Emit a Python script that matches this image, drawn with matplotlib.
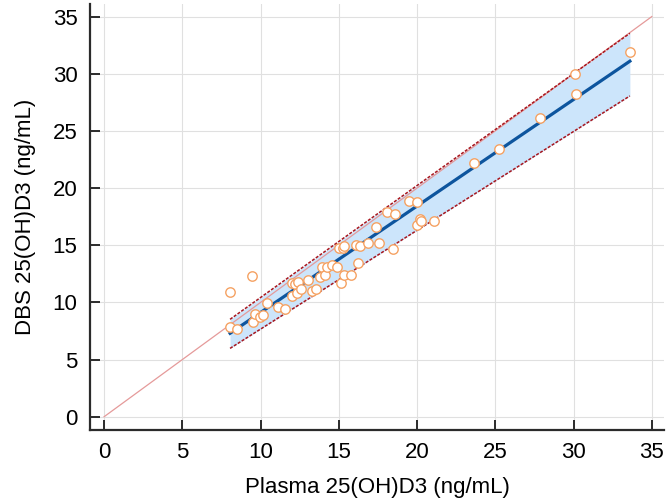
import numpy as np
import matplotlib
matplotlib.use('Agg')
import matplotlib.pyplot as plt

plt.rcParams['font.family'] = ['Liberation Sans', 'DejaVu Sans']

# plasma vs DBS values (ng/mL)
plasma = [8.05, 9.46, 8.05, 8.47, 9.51, 9.63, 9.94, 10.15, 10.41, 11.12,
          11.59, 11.99, 11.99, 12.18, 12.39, 12.34, 12.58, 13.05, 13.29, 13.52,
          13.80, 13.95, 14.11, 14.23, 14.59, 14.89, 14.99, 15.13, 15.32, 15.27,
          15.36, 15.81, 16.07, 16.24, 16.36, 16.88, 17.35, 17.54, 18.08, 18.48,
          18.57, 19.50, 19.99, 19.99, 20.18, 20.27, 21.08, 23.67, 25.23, 27.85,
          30.12, 30.14, 33.61]
dbs = [10.90, 12.30, 7.87, 7.64, 8.28, 8.98, 8.75, 8.92, 9.92, 9.57,
       9.45, 10.60, 11.67, 11.60, 11.80, 10.80, 11.14, 11.96, 11.02, 11.20,
       12.19, 13.12, 12.36, 13.12, 13.24, 13.12, 14.73, 11.67, 12.39, 14.73,
       14.93, 12.39, 14.99, 13.47, 14.93, 15.16, 16.62, 15.16, 17.90, 14.64,
       17.73, 18.87, 18.78, 16.74, 17.26, 17.09, 17.09, 22.22, 23.45, 26.13,
       29.95, 28.23, 31.93]

# regression line and band end points
fit_x = [8.05, 33.6]
fit_y = [7.3, 31.1]
band_upper = [8.52, 33.54]
band_lower = [5.98, 28.06]

identity = [0, 35]
ticks = [0, 5, 10, 15, 20, 25, 30, 35]

fig = plt.figure(figsize=(6.69, 5.04), dpi=100)
ax = fig.add_axes([90/669, 74/504, 574/669, 426/504])

ax.fill_between(fit_x, band_lower, band_upper, color="#cce5fb", linewidth=0, zorder=1)
ax.plot(identity, identity, color="#e59a9a", linewidth=0.9, zorder=2)
ax.plot(fit_x, band_upper, color="#a8161e", linestyle=(0, (2, 1)), linewidth=1.1, zorder=3)
ax.plot(fit_x, band_lower, color="#a8161e", linestyle=(0, (2, 1)), linewidth=1.1, zorder=3)
ax.plot(fit_x, fit_y, color="#0d559e", linewidth=2.3, zorder=4)
ax.scatter(plasma, dbs, s=46, facecolors="white", edgecolors="#f5a263",
           linewidths=1.0, zorder=5)

ax.set_xlim(-0.9, 35.78)
ax.set_ylim(-1.16, 36.1)
ax.set_xticks(ticks)
ax.set_yticks(ticks)
ax.grid(True, color="#e0e0e0", linewidth=0.8)
ax.set_axisbelow(True)

for side in ["top", "right"]:
    ax.spines[side].set_visible(False)
for side in ["left", "bottom"]:
    ax.spines[side].set_linewidth(1.6)
    ax.spines[side].set_color("#2b2b2b")

ax.tick_params(direction="in", length=7, width=1.4, color="#2b2b2b",
               labelsize=16, pad=9)
ax.set_xlabel("Plasma 25(OH)D3 (ng/mL)", fontsize=16, labelpad=10)
ax.set_ylabel("DBS 25(OH)D3 (ng/mL)", fontsize=16, labelpad=12)

plt.savefig("out.png", dpi=100)
plt.close()
